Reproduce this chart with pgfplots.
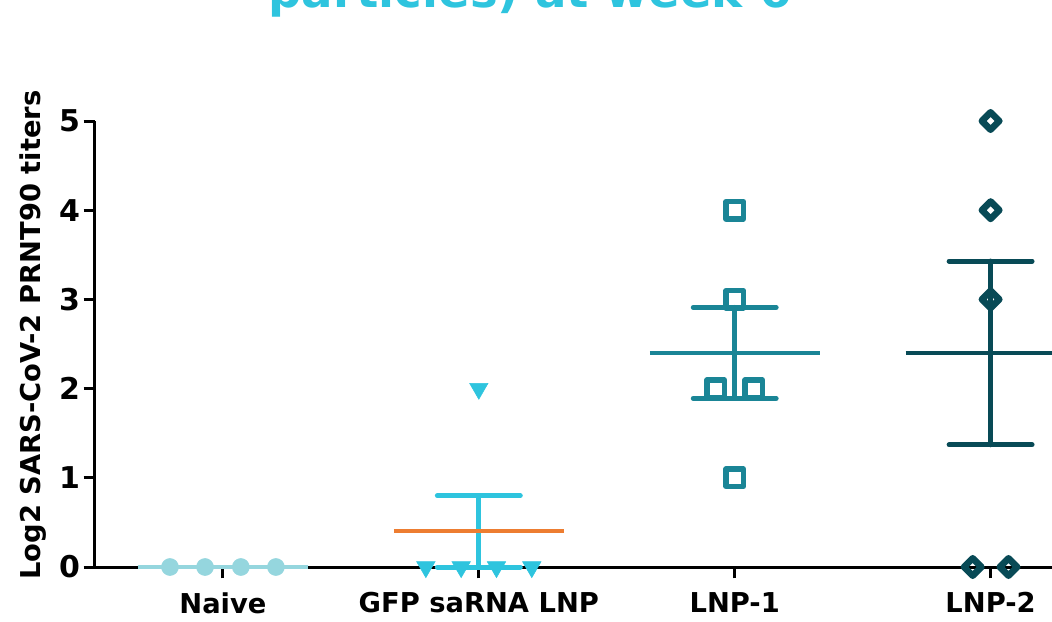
\documentclass[border=0pt]{standalone}
\usepackage{pgfplots}
\pgfplotsset{compat=1.18}
\usepackage{fontspec}
\setmainfont{DejaVu Sans}
\definecolor{naive}{HTML}{95D6DE}
\definecolor{gfp}{HTML}{2EC4DE}
\definecolor{orng}{HTML}{ED7D31}
\definecolor{lnpa}{HTML}{1A8596}
\definecolor{lnpb}{HTML}{084A56}
\begin{document}
\begin{tikzpicture}
\begin{axis}[
 at={(0,0)}, anchor=south west, scale only axis,
 width=717.75pt, height=334.5pt,
 xmin=-0.5, xmax=3.24, ymin=0, ymax=5,
 axis lines=left, axis line style={line width=2.25pt, -},
 xtick={0,1,2,3}, xticklabels={Naive, GFP saRNA LNP, LNP-1, LNP-2},
 ytick={0,1,2,3,4,5},
 tick align=outside, major tick length=8.5pt,
 tick style={line width=2.25pt, black},
 clip=false,
 /pgf/number format/assume math mode=true,
 xticklabel style={font=\fontsize{20.5}{24}\selectfont\bfseries, yshift=-7pt},
 yticklabel style={font=\fontsize{22.5}{26}\selectfont\bfseries, inner sep=2.5pt},
 ylabel={Log2 SARS-CoV-2 PRNT90 titers},
 ylabel style={font=\fontsize{20.5}{24}\selectfont\bfseries, at={(axis description cs:-0.0648,0.52)}, anchor=center},
]
% Naive points
\addplot[only marks, mark=*, mark size=6.4pt, color=naive] coordinates {(-0.207,0) (-0.07,0) (0.07,0) (0.207,0)};
% GFP points
\addplot[only marks, mark=triangle*, mark size=8pt, color=gfp, mark options={rotate=180}] coordinates {(0.793,0) (0.931,0) (1.069,0) (1.207,0) (1,2)};
% LNP-1 points
\addplot[only marks, mark=square, mark size=6.5pt, color=lnpa, mark options={line width=4pt, line join=round}] coordinates {(2,4) (2,3) (1.926,2) (2.074,2) (2,1)};
% LNP-2 points
\addplot[only marks, mark=square, mark size=4.6pt, color=lnpb, mark options={rotate=45, line width=5pt, line join=round}] coordinates {(3,5) (3,4) (3,3) (2.93,0) (3.07,0)};
% error bars GFP
\addplot[gfp, line width=3.75pt, line cap=round] coordinates {(1,0) (1,0.8)};
\addplot[gfp, line width=3.75pt, line cap=round] coordinates {(0.838,0.8) (1.162,0.8)};
\addplot[gfp, line width=3.75pt, line cap=round] coordinates {(0.838,0) (1.162,0)};
% error bars LNP-1
\addplot[lnpa, line width=3.75pt, line cap=round] coordinates {(2,1.89) (2,2.91)};
\addplot[lnpa, line width=3.75pt, line cap=round] coordinates {(1.838,2.91) (2.162,2.91)};
\addplot[lnpa, line width=3.75pt, line cap=round] coordinates {(1.838,1.89) (2.162,1.89)};
% error bars LNP-2
\addplot[lnpb, line width=3.75pt, line cap=round] coordinates {(3,1.37) (3,3.43)};
\addplot[lnpb, line width=3.75pt, line cap=round] coordinates {(2.838,3.43) (3.162,3.43)};
\addplot[lnpb, line width=3.75pt, line cap=round] coordinates {(2.838,1.37) (3.162,1.37)};
% means
\addplot[naive, line width=3pt] coordinates {(-0.332,0) (0.332,0)};
\addplot[orng, line width=3pt] coordinates {(0.668,0.4) (1.332,0.4)};
\addplot[lnpa, line width=3pt] coordinates {(1.668,2.4) (2.332,2.4)};
\addplot[lnpb, line width=3pt] coordinates {(2.668,2.4) (3.332,2.4)};
\end{axis}
\node[anchor=base, text=gfp, font=\fontsize{35}{40}\selectfont\bfseries] at (326.25pt,419.25pt) {particles) at week 6};
\pgfresetboundingbox
\useasboundingbox (-71.25pt,-40.5pt) rectangle (717.75pt,425.25pt);
\end{tikzpicture}
\end{document}
